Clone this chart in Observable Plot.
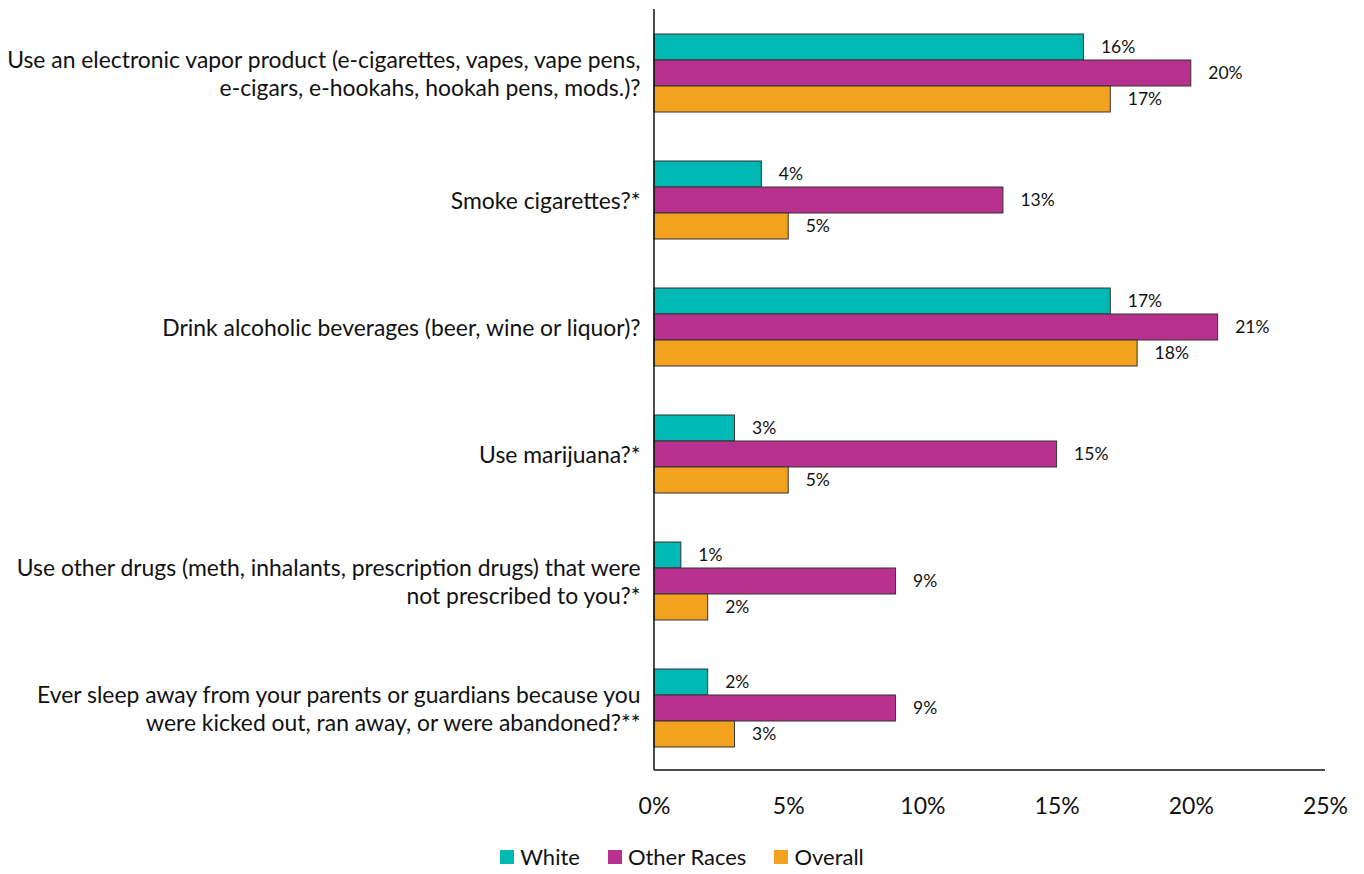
<!DOCTYPE html>
<html>
<head>
<meta charset="utf-8">
<script src="https://cdn.jsdelivr.net/npm/d3@7"></script>
<script src="https://cdn.jsdelivr.net/npm/@observablehq/plot@0.6"></script>
<style>
  html, body { margin: 0; padding: 0; background: #fff; }
  body { width: 1364px; font-family: Lato, "Open Sans", sans-serif; }
  #legend { display: flex; justify-content: center; gap: 28px; font-size: 22px; color: #111; margin-top: 8px; padding-right: 0px; }
  #legend span.item { display: flex; align-items: center; }
  #legend span.sw { width: 14px; height: 14px; display: inline-block; margin-right: 6px; }
</style>
</head>
<body>
<div id="chart"></div>
<div id="legend"></div>
<script>
const categories = [
  "Use an electronic vapor product (e-cigarettes, vapes, vape pens,\ne-cigars, e-hookahs, hookah pens, mods.)?",
  "Smoke cigarettes?*",
  "Drink alcoholic beverages (beer, wine or liquor)?",
  "Use marijuana?*",
  "Use other drugs (meth, inhalants, prescription drugs) that were\nnot prescribed to you?*",
  "Ever sleep away from your parents or guardians because you\nwere kicked out, ran away, or were abandoned?**"
];
const seriesNames = ["White", "Other Races", "Overall"];
const seriesColors = ["#00B8B4", "#B8318E", "#F3A220"];
const white = [16, 4, 17, 3, 1, 2];
const otherRaces = [20, 13, 21, 15, 9, 9];
const overall = [17, 5, 18, 5, 2, 3];
const xTicks = [0, 5, 10, 15, 20, 25];

const seriesValues = [white, otherRaces, overall];
const data = [];
categories.forEach((c, i) => {
  seriesNames.forEach((s, j) => data.push({category: c, series: s, value: seriesValues[j][i]}));
});

const chart = Plot.plot({
  width: 1364,
  height: 835,
  marginLeft: 654,
  marginRight: 39,
  marginTop: 10,
  marginBottom: 65,
  style: {fontFamily: "Lato, 'Open Sans', sans-serif", color: "#111", background: "#fff"},
  x: {domain: [0, 25], ticks: xTicks, axis: null},
  y: {domain: seriesNames, padding: 0, axis: null},
  fy: {domain: categories, paddingInner: 0.378, paddingOuter: 0.181, axis: null},
  color: {domain: seriesNames, range: seriesColors},
  marks: [
    Plot.barX(data, {fy: "category", y: "series", x: "value", fill: "series", stroke: "#333", strokeWidth: 1}),
    Plot.text(data, {fy: "category", y: "series", x: "value", text: d => d.value + "%", textAnchor: "start", dx: 17, fontSize: 17.5, fill: "#111"}),
    Plot.axisFy({anchor: "left", domain: categories, tickSize: 0, tickPadding: 14, fontSize: 22.9, lineHeight: 1.22, label: null}),
    Plot.axisX({ticks: xTicks, tickFormat: d => d + "%", tickSize: 0, tickPadding: 50, fontSize: 23, label: null})
  ]
});

// axis lines drawn with the chart's own scales
const sx = chart.scale("x");
const x0 = sx.apply(0), x1 = sx.apply(25);
const svg = d3.select(chart);
svg.append("line").attr("x1", x0).attr("x2", x0).attr("y1", 9).attr("y2", 770).attr("stroke", "#111").attr("stroke-width", 1.5);
svg.append("line").attr("x1", x0).attr("x2", x1).attr("y1", 770).attr("y2", 770).attr("stroke", "#111").attr("stroke-width", 1.5);

document.getElementById("chart").appendChild(chart);

const legend = document.getElementById("legend");
seriesNames.forEach((s, i) => {
  const item = document.createElement("span");
  item.className = "item";
  const sw = document.createElement("span");
  sw.className = "sw";
  sw.style.background = seriesColors[i];
  item.appendChild(sw);
  item.appendChild(document.createTextNode(s));
  legend.appendChild(item);
});
</script>
</body>
</html>
